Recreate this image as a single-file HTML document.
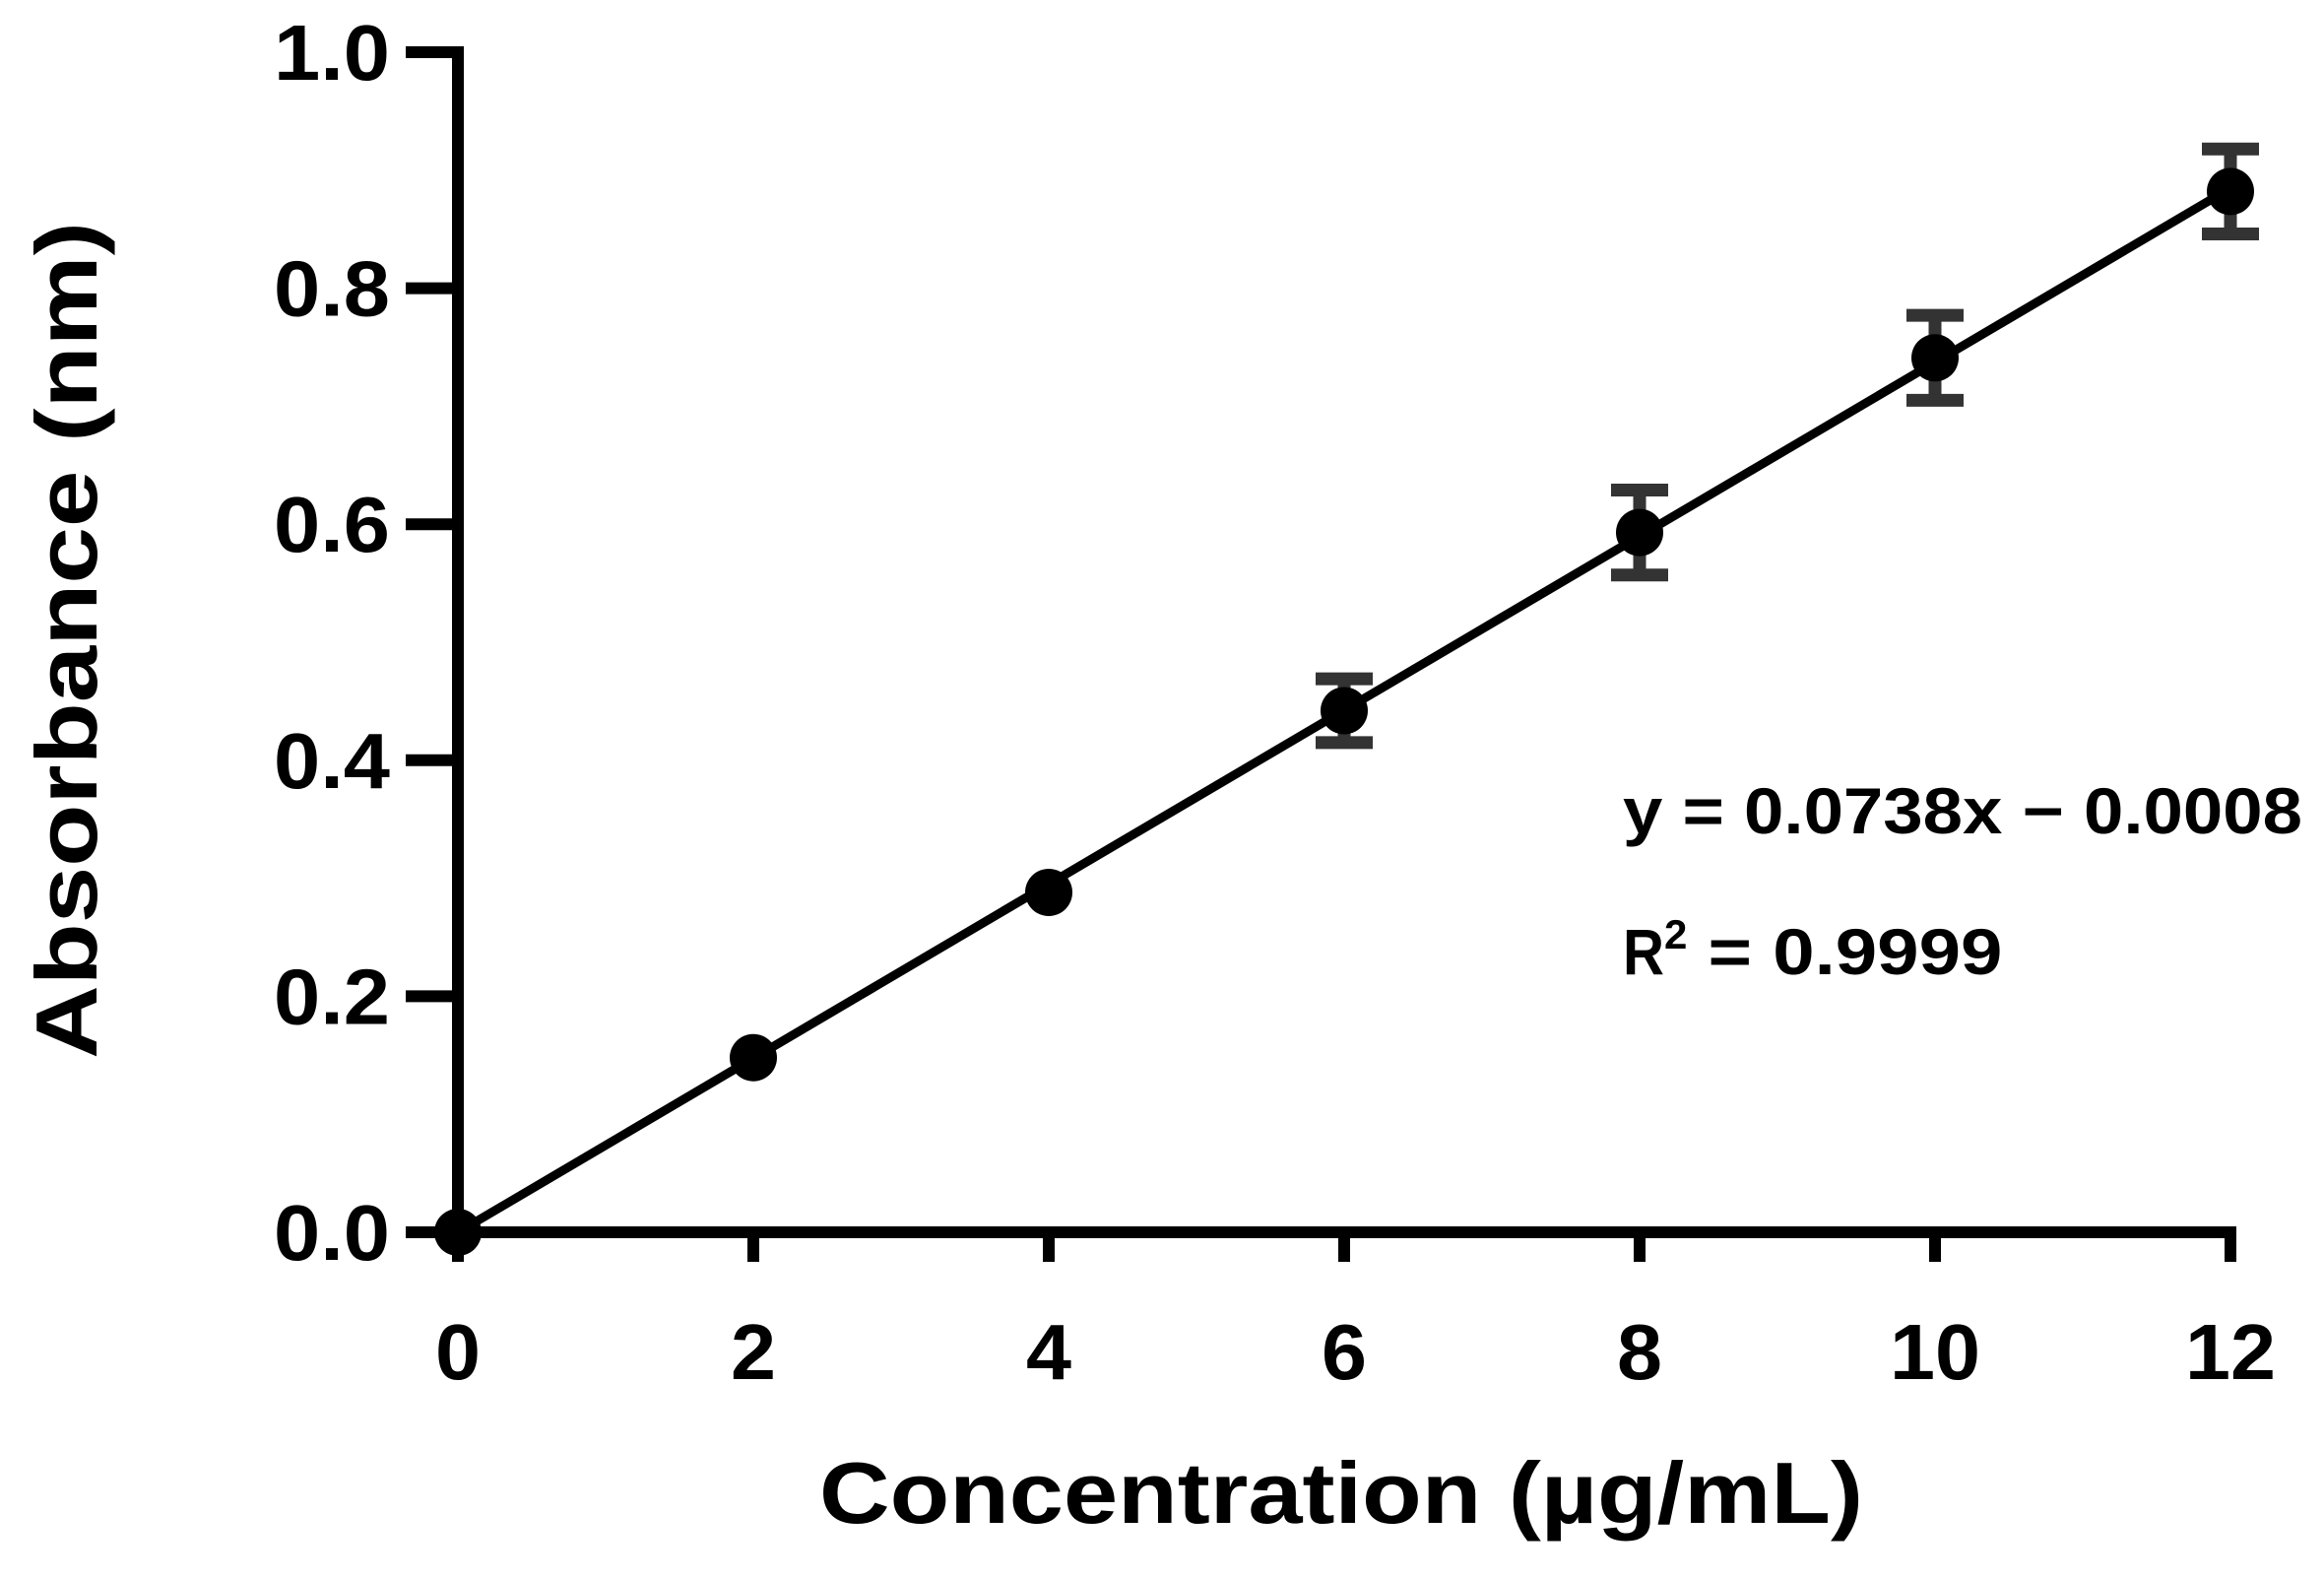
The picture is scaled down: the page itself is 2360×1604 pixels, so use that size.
<!DOCTYPE html>
<html><head><meta charset="utf-8"><style>
html,body{margin:0;padding:0;background:#fff;}
svg{display:block;font-family:"Liberation Sans",Arial,sans-serif;font-weight:bold;}
</style></head><body>
<svg id="chart" width="2360" height="1604" viewBox="0 0 2360 1604" xmlns="http://www.w3.org/2000/svg">
<g id="axes"></g>
<g id="marks"></g>
<text x="1362" y="1546" font-size="88" text-anchor="middle" textLength="1060" lengthAdjust="spacingAndGlyphs">Concentration (µg/mL)</text>
<text transform="translate(98,650) rotate(-90)" font-size="88" text-anchor="middle" textLength="850" lengthAdjust="spacingAndGlyphs">Absorbance  (nm)</text>
<text x="1648" y="846" font-size="66" textLength="690" lengthAdjust="spacingAndGlyphs">y = 0.0738x − 0.0008</text>
<text x="1648" y="989" font-size="66"><tspan textLength="42" lengthAdjust="spacingAndGlyphs">R</tspan><tspan dy="-26" font-size="42">2</tspan><tspan dy="26" textLength="320" lengthAdjust="spacingAndGlyphs"> = 0.9999</tspan></text>
</svg>
<script>
const concentrations = [0, 2, 4, 6, 8, 10, 12];
const absorbance = [0, 0.148, 0.288, 0.442, 0.593, 0.741, 0.882];
const errors = [0, 0, 0, 0.027, 0.036, 0.036, 0.036];
const xTicks = [0, 2, 4, 6, 8, 10, 12];
const yTicks = [0, 0.2, 0.4, 0.6, 0.8, 1.0];
const yTickLabels = ["0.0", "0.2", "0.4", "0.6", "0.8", "1.0"];
const slope = 0.0738, intercept = -0.0008;

const NS = "http://www.w3.org/2000/svg";
const X0 = 465, X1 = 2265, Y0 = 1251, Y1 = 53;
const sx = v => X0 + (v - 0) / 12 * (X1 - X0);
const sy = v => Y0 - (v - 0) / 1 * (Y0 - Y1);
function mk(tag, attrs, parent){const e=document.createElementNS(NS,tag);for(const k in attrs)e.setAttribute(k,attrs[k]);parent.appendChild(e);return e;}
const axes = document.getElementById('axes'), marks = document.getElementById('marks');

let e = mk('line',{x1:X0,y1:Y1-6,x2:X0,y2:Y0+6,stroke:'#000','stroke-width':12},axes);


e = mk('line',{x1:X0-6,y1:Y0,x2:X1+6,y2:Y0,stroke:'#000','stroke-width':12},axes);



yTicks.forEach((v,i)=>{
  const t = mk('line',{x1:412,y1:sy(v),x2:X0,y2:sy(v),stroke:'#000','stroke-width':12},axes);
  
  
  const l = mk('text',{x:396,y:sy(v)+28,'font-size':80,'text-anchor':'end',textLength:118,lengthAdjust:'spacingAndGlyphs'},axes);
  l.textContent = yTickLabels[i];
  
  
});
xTicks.forEach(v=>{
  const t = mk('line',{x1:sx(v),y1:Y0,x2:sx(v),y2:1281,stroke:'#000','stroke-width':12},axes);
  
  
  const s = String(v);
  const l = mk('text',{x:sx(v),y:1400,'font-size':80,'text-anchor':'middle',textLength:s.length>1?92:46,lengthAdjust:'spacingAndGlyphs'},axes);
  l.textContent = s;
  
  
});

const fit = mk('line',{x1:sx(0),y1:sy(Math.max(0,intercept)),x2:sx(12),y2:sy(slope*12+intercept),stroke:'#000','stroke-width':9},marks);



concentrations.forEach((c,i)=>{
  const x = sx(c), y = sy(absorbance[i]), er = errors[i];
  if (er > 0) {
    const g = mk('g',{stroke:'#333','stroke-width':13},marks);
    
    
    mk('line',{x1:x,y1:sy(absorbance[i]+er),x2:x,y2:sy(absorbance[i]-er)},g);
    mk('line',{x1:x-29,y1:sy(absorbance[i]+er),x2:x+29,y2:sy(absorbance[i]+er)},g);
    mk('line',{x1:x-29,y1:sy(absorbance[i]-er),x2:x+29,y2:sy(absorbance[i]-er)},g);
  }
  const p = mk('circle',{cx:x,cy:y,r:24,fill:'#000'},marks);
  
  
});
</script>
</body></html>
